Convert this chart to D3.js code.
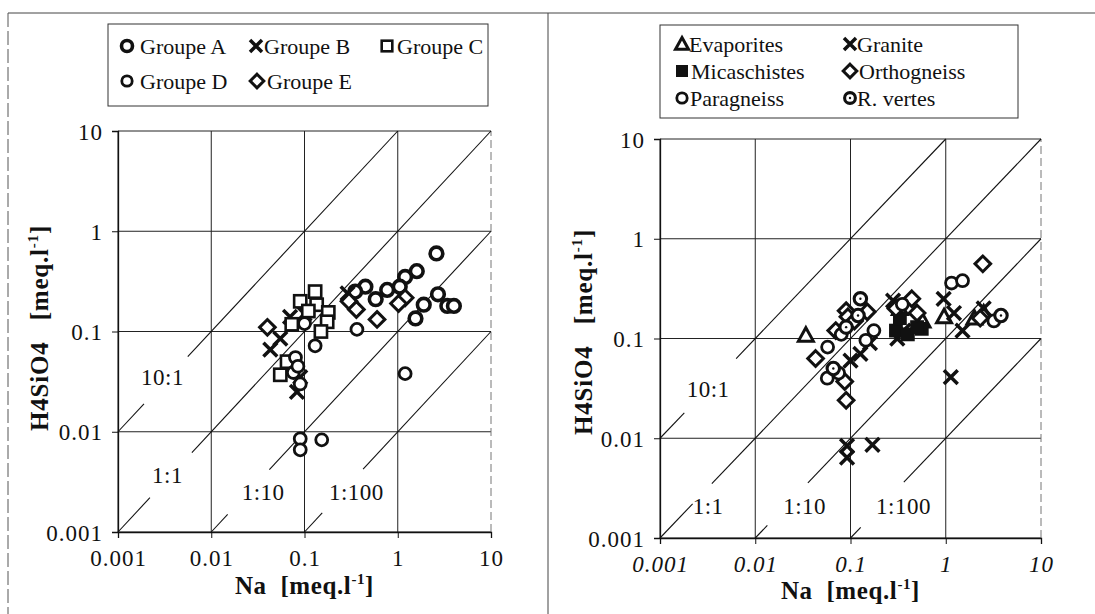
<!DOCTYPE html>
<html><head><meta charset="utf-8">
<script src="https://cdn.jsdelivr.net/npm/d3@7"></script>
<style>
body{margin:0;background:#fff}
svg{display:block}
text{font-family:"Liberation Serif","Times New Roman",serif;fill:#111}
</style>
</head><body><svg id="c" width="1095" height="614"></svg>
<script>
// ---------- data ----------
const decades = [0.001, 0.01, 0.1, 1, 10];
const tickLabels = ["0.001", "0.01", "0.1", "1", "10"];
const ratios = [10, 1, 0.1, 0.01];
const ratioLabels = ["10:1", "1:1", "1:10", "1:100"];

// left panel series [Na, H4SiO4]
const groupeA = [[2.6,0.6],[1.6,0.4],[1.2,0.35],[1.05,0.28],[0.77,0.26],[0.45,0.28],[0.35,0.25],[0.58,0.21],[2.7,0.235],[1.9,0.185],[1.55,0.135],[3.4,0.18],[4.0,0.18]];
const groupeB = [[0.29,0.24],[0.07,0.14],[0.1,0.15],[0.043,0.066],[0.055,0.085],[0.083,0.025],[0.09,0.035]];
const groupeC = [[0.09,0.2],[0.13,0.25],[0.135,0.185],[0.18,0.155],[0.175,0.125],[0.073,0.118],[0.15,0.1],[0.055,0.037],[0.065,0.05],[0.11,0.16]];
const groupeD = [[0.365,0.105],[0.1,0.12],[0.13,0.072],[0.076,0.039],[0.09,0.03],[0.08,0.055],[0.085,0.045],[1.2,0.038],[0.09,0.0085],[0.09,0.0066],[0.153,0.0083]];
const groupeE = [[0.04,0.11],[0.3,0.2],[0.36,0.166],[0.6,0.132],[1.2,0.217],[1.02,0.19]];
const groupNames = ["Groupe A","Groupe B","Groupe C","Groupe D","Groupe E"];

// right panel series [Na, H4SiO4]
const evaporites = [[0.034,0.108],[0.57,0.15],[0.96,0.165],[2.0,0.16],[2.5,0.18],[0.33,0.2]];
const granite = [[0.28,0.24],[0.31,0.1],[0.36,0.12],[0.95,0.25],[1.22,0.18],[1.5,0.12],[2.5,0.2],[0.127,0.07],[0.1,0.06],[1.13,0.041],[0.092,0.0084],[0.092,0.0064],[0.17,0.0086],[0.16,0.09]];
const micaschistes = [[0.3,0.12],[0.4,0.11],[0.56,0.125],[0.33,0.16],[0.5,0.13]];
const orthogneiss = [[0.043,0.063],[0.07,0.12],[0.09,0.19],[0.15,0.185],[0.094,0.165],[0.44,0.25],[0.3,0.2],[2.45,0.56],[2.3,0.16],[0.09,0.024],[0.087,0.037],[0.11,0.15],[0.5,0.18]];
const paragneiss = [[0.0575,0.082],[0.08,0.11],[0.176,0.12],[0.145,0.096],[1.15,0.36],[1.5,0.38],[3.2,0.15],[0.057,0.04],[0.35,0.22],[0.075,0.045]];
const rvertes = [[0.127,0.25],[0.066,0.05],[3.8,0.17],[0.09,0.13],[0.12,0.17]];
const rockNames = ["Evaporites","Granite","Micaschistes","Orthogneiss","Paragneiss","R. vertes"];

// ---------- drawing ----------
const svg = d3.select("#c");
const INK = "#111";
const SERIF = '"Liberation Serif","Times New Roman",serif';

// outer frame
svg.append("line").attr("x1",8).attr("x2",1095).attr("y1",13).attr("y2",13).attr("stroke","#444").attr("stroke-width",1);
svg.append("line").attr("x1",8).attr("x2",8).attr("y1",13).attr("y2",614).attr("stroke","#555").attr("stroke-width",1).attr("stroke-dasharray","14,4");
svg.append("line").attr("x1",548).attr("x2",548).attr("y1",13).attr("y2",614).attr("stroke","#444").attr("stroke-width",1);

function marker(g, type, cx, cy, s) {
  s = s || 1.15;
  if (type === "circleBold") {
    g.append("circle").attr("cx",cx).attr("cy",cy).attr("r",5.5*s).attr("fill","#fff").attr("stroke",INK).attr("stroke-width",3.6);
  } else if (type === "circle") {
    g.append("circle").attr("cx",cx).attr("cy",cy).attr("r",5.2*s).attr("fill","#fff").attr("stroke",INK).attr("stroke-width",2.8);
  } else if (type === "dotCircle") {
    g.append("circle").attr("cx",cx).attr("cy",cy).attr("r",5.4*s).attr("fill","#fff").attr("stroke",INK).attr("stroke-width",3.1);
    g.append("circle").attr("cx",cx).attr("cy",cy).attr("r",1.2).attr("fill",INK);
  } else if (type === "cross") {
    const d = 6*s;
    g.append("path").attr("d",`M${cx-d},${cy-d}L${cx+d},${cy+d}M${cx-d},${cy+d}L${cx+d},${cy-d}`).attr("stroke",INK).attr("stroke-width",3.5).attr("fill","none");
  } else if (type === "square") {
    const d = 5.3*s;
    g.append("rect").attr("x",cx-d).attr("y",cy-d).attr("width",2*d).attr("height",2*d).attr("fill","#fff").attr("stroke",INK).attr("stroke-width",2.6);
  } else if (type === "filledSquare") {
    const d = 6*s;
    g.append("rect").attr("x",cx-d).attr("y",cy-d).attr("width",2*d).attr("height",2*d).attr("fill",INK);
  } else if (type === "diamond") {
    const d = 6.8*s;
    g.append("path").attr("d",`M${cx},${cy-d}L${cx+d},${cy}L${cx},${cy+d}L${cx-d},${cy}Z`).attr("fill","#fff").attr("stroke",INK).attr("stroke-width",3);
  } else if (type === "triangle") {
    const d = 6.5*s;
    g.append("path").attr("d",`M${cx},${cy-d}L${cx+d},${cy+d*0.8}L${cx-d},${cy+d*0.8}Z`).attr("fill","#fff").attr("stroke",INK).attr("stroke-width",3);
  }
}

function panel(cfg) {
  const x = d3.scaleLog().domain([0.001, 10]).range([cfg.x0, cfg.x1]);
  const y = d3.scaleLog().domain([0.001, 10]).range([cfg.y1, cfg.y0]);
  const g = svg.append("g");

  // grid
  decades.forEach(v => {
    g.append("line").attr("x1",x(v)).attr("x2",x(v)).attr("y1",y(0.001)).attr("y2",y(10))
      .attr("stroke", v===10 ? "#777" : "#222").attr("stroke-width",1)
      .attr("stroke-dasharray", v===10 ? "8,4" : null);
    g.append("line").attr("x1",x(0.001)).attr("x2",x(10)).attr("y1",y(v)).attr("y2",y(v))
      .attr("stroke","#222").attr("stroke-width",1);
  });

  // minor + major ticks
  const minor = [];
  [0.001,0.01,0.1,1].forEach(d => { for (let k=2;k<=9;k++) minor.push(d*k); });
  const xAxisMinor = d3.axisBottom(x).tickValues(minor).tickSize(4).tickFormat("");
  const xAxisMajor = d3.axisBottom(x).tickValues(decades).tickSize(6).tickPadding(8).tickFormat((d,i)=>tickLabels[i]);
  const yAxisMinor = d3.axisLeft(y).tickValues(minor).tickSize(4).tickFormat("");
  const yAxisMajor = d3.axisLeft(y).tickValues(decades).tickSize(6).tickPadding(9).tickFormat((d,i)=>tickLabels[i]);

  const gx = g.append("g").attr("transform",`translate(0,${y(0.001)})`);
  gx.call(xAxisMinor); gx.call(xAxisMajor);
  const gy = g.append("g").attr("transform",`translate(${x(0.001)},0)`);
  gy.call(yAxisMinor); gy.call(yAxisMajor);
  [gx, gy].forEach(a => {
    a.selectAll(".domain").attr("stroke",INK).attr("stroke-width",1.3);
    a.selectAll(".tick line").attr("stroke",INK).attr("stroke-width",1);
    a.selectAll("text").style("font-family",SERIF).style("font-size","23px").style("letter-spacing","1px").attr("fill",INK);
  });
  gx.selectAll("text").style("font-style", cfg.italicX ? "italic" : "normal").attr("dy","0.85em");
  gy.selectAll("text").attr("dy","0.35em");

  // ratio lines (with label gaps)
  ratios.forEach((r, i) => {
    const xs = Math.max(0.001, 0.001/r), xe = Math.min(10, 10/r);
    const gap = cfg.gaps[i];
    [[xs, gap[0]], [gap[1], xe]].forEach(s => {
      g.append("line").attr("x1",x(s[0])).attr("y1",y(s[0]*r)).attr("x2",x(s[1])).attr("y2",y(s[1]*r))
        .attr("stroke",INK).attr("stroke-width",1.1);
    });
    const lp = cfg.labelPos[i];
    g.append("text").attr("x",x(lp[0])).attr("y",y(lp[1])).attr("text-anchor","middle").attr("dy","0.35em")
      .style("font-size","23px").style("letter-spacing","0.5px").text(ratioLabels[i]);
  });

  // data
  cfg.series.forEach(s => {
    s.data.forEach(p => marker(g, s.type, x(p[0]), y(p[1])));
  });

  // axis titles
  const xt = g.append("text").attr("x",(cfg.x0+cfg.x1)/2).attr("y",cfg.xTitleY).attr("text-anchor","middle")
    .style("font-size","25px").style("font-weight","bold").style("letter-spacing","0.6px");
  xt.append("tspan").text("Na\u00a0\u00a0[meq.l");
  xt.append("tspan").attr("dy",-10).style("font-size","15px").text("-1");
  xt.append("tspan").attr("dy",10).text("]");

  const yt = g.append("text").attr("transform",`translate(${cfg.yTitleX},${cfg.yTitleY}) rotate(-90)`).attr("text-anchor","middle")
    .style("font-size","25px").style("font-weight","bold").style("letter-spacing","0.8px");
  yt.append("tspan").text("H4SiO4\u00a0\u00a0\u00a0[meq.l");
  yt.append("tspan").attr("dy",-10).style("font-size","15px").text("-1");
  yt.append("tspan").attr("dy",10).text("]");

  // legend
  const L = cfg.legend;
  g.append("rect").attr("x",L.x).attr("y",L.y).attr("width",L.w).attr("height",L.h)
    .attr("fill","#fff").attr("stroke","#333").attr("stroke-width",1);
  L.items.forEach(it => {
    marker(g, it.type, it.mx, it.my, 1.0);
    g.append("text").attr("x",it.tx).attr("y",it.my).attr("dy","0.35em").style("font-size","22px").text(it.name);
  });
}

// left panel
panel({
  x0:118, x1:491, y0:131, y1:532, italicX:false,
  xTitleY:594, yTitleX:48, yTitleY:328,
  gaps:[[0.0019,0.0056],[0.0022,0.0062],[0.015,0.042],[0.155,0.425]],
  labelPos:[[0.0030,0.035],[0.0034,0.0037],[0.036,0.0025],[0.36,0.0025]],
  series:[
    {type:"circleBold", data:groupeA},
    {type:"cross", data:groupeB},
    {type:"square", data:groupeC},
    {type:"circle", data:groupeD},
    {type:"diamond", data:groupeE}
  ],
  legend:{x:108,y:24,w:380,h:82,items:[
    {type:"circleBold", mx:127, my:46, tx:140, name:groupNames[0]},
    {type:"cross", mx:256, my:46, tx:264, name:groupNames[1]},
    {type:"square", mx:387, my:46, tx:397, name:groupNames[2]},
    {type:"circle", mx:127, my:81, tx:140, name:groupNames[3]},
    {type:"diamond", mx:257, my:81, tx:267, name:groupNames[4]}
  ]}
});

// right panel
panel({
  x0:660, x1:1041, y0:139, y1:538, italicX:true,
  xTitleY:599, yTitleX:592, yTitleY:332,
  gaps:[[0.0018,0.0063],[0.0022,0.0035],[0.0134,0.0357],[0.128,0.363]],
  labelPos:[[0.0032,0.031],[0.0032,0.0021],[0.033,0.0021],[0.36,0.0021]],
  series:[
    {type:"triangle", data:evaporites},
    {type:"cross", data:granite},
    {type:"filledSquare", data:micaschistes},
    {type:"diamond", data:orthogneiss},
    {type:"circle", data:paragneiss},
    {type:"dotCircle", data:rvertes}
  ],
  legend:{x:660,y:25,w:358,h:93,items:[
    {type:"triangle", mx:682, my:44, tx:689, name:rockNames[0]},
    {type:"cross", mx:850, my:44, tx:857, name:rockNames[1]},
    {type:"filledSquare", mx:682, my:71, tx:691, name:rockNames[2]},
    {type:"diamond", mx:850, my:71, tx:859, name:rockNames[3]},
    {type:"circle", mx:682, my:98, tx:690, name:rockNames[4]},
    {type:"dotCircle", mx:850, my:98, tx:857, name:rockNames[5]}
  ]}
});
</script>
</body></html>
